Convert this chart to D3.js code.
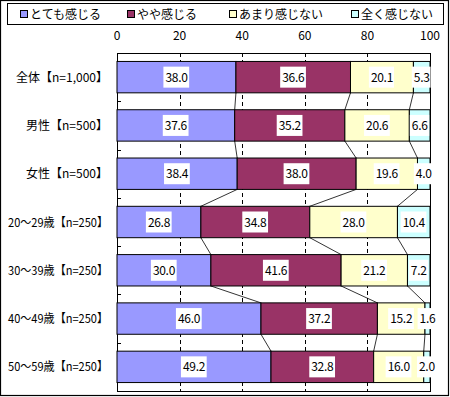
<!DOCTYPE html>
<html>
<head>
<meta charset="utf-8">
<script src="https://cdn.jsdelivr.net/npm/d3@7"></script>
<style>
  body { margin: 0; background: #fff; }
  text { font-family: "Noto Sans CJK JP", "Liberation Sans", sans-serif; }
</style>
</head>
<body>
<svg id="chart" width="450" height="397"></svg>
<script>
const categories = ["全体【n=1,000】", "男性【n=500】", "女性【n=500】", "20～29歳【n=250】", "30～39歳【n=250】", "40～49歳【n=250】", "50～59歳【n=250】"]
const seriesNames = ["とても感じる", "やや感じる", "あまり感じない", "全く感じない"]
const verySeries = [38.0, 37.6, 38.4, 26.8, 30.0, 46.0, 49.2]
const somewhatSeries = [36.6, 35.2, 38.0, 34.8, 41.6, 37.2, 32.8]
const notMuchSeries = [20.1, 20.6, 19.6, 28.0, 21.2, 15.2, 16.0]
const notAtAllSeries = [5.3, 6.6, 4.0, 10.4, 7.2, 1.6, 2.0]
const xTicks = [0, 20, 40, 60, 80, 100]
const colors = ["#9999FF", "#993366", "#FFFFCC", "#CCFFFF"]

const svg = d3.select("#chart")
const plotLeft = 117, plotRight = 430, plotTop = 53, plotBottom = 391

// outer frame
svg.append("rect").attr("x", 0.5).attr("y", 0.5).attr("width", 448).attr("height", 395)
    .attr("fill", "#fff").attr("stroke", "#000").attr("stroke-width", 1.2)

// legend
const legend = svg.append("g")
legend.append("rect").attr("x", 7.5).attr("y", 3.5).attr("width", 436).attr("height", 21)
    .attr("fill", "#fff").attr("stroke", "#000")
const legendX = [20, 127, 229, 351]
seriesNames.forEach((name, i) => {
    legend.append("rect").attr("x", legendX[i] + 0.5).attr("y", 10.5).attr("width", 7).attr("height", 7)
        .attr("fill", colors[i]).attr("stroke", "#000")
    legend.append("text").attr("x", legendX[i] + 10).attr("y", 19)
        .attr("font-size", 12).text(name)
})

const x = d3.scaleLinear().domain([0, 100]).range([plotLeft, plotRight])
const y = d3.scaleBand().domain(categories).range([plotTop, plotBottom]).paddingInner(0.35).paddingOuter(0.175)
const band = d3.scaleBand().domain(categories).range([plotTop, plotBottom])

// stacked data
const rows = categories.map((c, i) => ({
    cat: c, s0: verySeries[i], s1: somewhatSeries[i], s2: notMuchSeries[i], s3: notAtAllSeries[i]
}))
const stacked = d3.stack().keys(["s0", "s1", "s2", "s3"])(rows)

// top axis labels
svg.append("g").selectAll("text").data(xTicks).enter().append("text")
    .attr("x", d => x(d)).attr("y", 40).attr("text-anchor", "middle")
    .attr("font-size", 12).text(d => d)

// dashed gridlines
svg.append("g").selectAll("line").data(xTicks.slice(1, -1)).enter().append("line")
    .attr("x1", d => Math.round(x(d)) + 0.5).attr("x2", d => Math.round(x(d)) + 0.5)
    .attr("y1", plotTop).attr("y2", plotBottom)
    .attr("stroke", "#000").attr("stroke-dasharray", "4,3")

// plot frame
svg.append("rect").attr("x", plotLeft + 0.5).attr("y", plotTop + 0.5)
    .attr("width", plotRight - plotLeft).attr("height", plotBottom - plotTop)
    .attr("fill", "none").attr("stroke", "#000")

// category ticks at band boundaries
svg.append("g").selectAll("line").data(categories.slice(1)).enter().append("line")
    .attr("x1", plotLeft).attr("x2", plotLeft + 4)
    .attr("y1", d => Math.round(band(d)) + 0.5).attr("y2", d => Math.round(band(d)) + 0.5)
    .attr("stroke", "#000")

// series connector lines
stacked.slice(0, 3).forEach(layer => {
    for (let i = 0; i < categories.length - 1; i++) {
        svg.append("line")
            .attr("x1", x(layer[i][1])).attr("y1", y(categories[i]) + y.bandwidth())
            .attr("x2", x(layer[i + 1][1])).attr("y2", y(categories[i + 1]))
            .attr("stroke", "#000").attr("stroke-width", 0.8)
    }
})

// bars
stacked.forEach((layer, k) => {
    svg.append("g").selectAll("rect").data(layer).enter().append("rect")
        .attr("x", d => x(d[0])).attr("y", d => y(d.data.cat))
        .attr("width", d => x(d[1]) - x(d[0])).attr("height", y.bandwidth())
        .attr("fill", colors[k]).attr("stroke", "#000").attr("stroke-width", 1)
})

// value labels
stacked.forEach(layer => {
    layer.forEach(d => {
        const v = d[1] - d[0]
        const cx = Math.min(x((d[0] + d[1]) / 2), 432)
        const cy = y(d.data.cat) + y.bandwidth() / 2
        const g = svg.append("g")
        const t = g.append("text").attr("x", cx).attr("y", cy + 4.5)
            .attr("text-anchor", "middle").attr("font-size", 12).attr("letter-spacing", -0.3)
            .text(v.toFixed(1))
        const bb = t.node().getBBox()
        g.insert("rect", "text").attr("x", bb.x - 2).attr("y", cy - 10.5)
            .attr("width", bb.width + 3).attr("height", 21).attr("fill", "#fff")
    })
})

// category labels
svg.append("g").selectAll("text").data(categories).enter().append("text")
    .attr("x", 108).attr("y", d => y(d) + y.bandwidth() / 2 + 4.5)
    .attr("text-anchor", "end").attr("font-size", 12)
    .text(d => d)
    .each(function() {
        const w = this.getComputedTextLength()
        if (w > 100) d3.select(this).attr("textLength", 100).attr("lengthAdjust", "spacingAndGlyphs")
    })
</script>
</body>
</html>
